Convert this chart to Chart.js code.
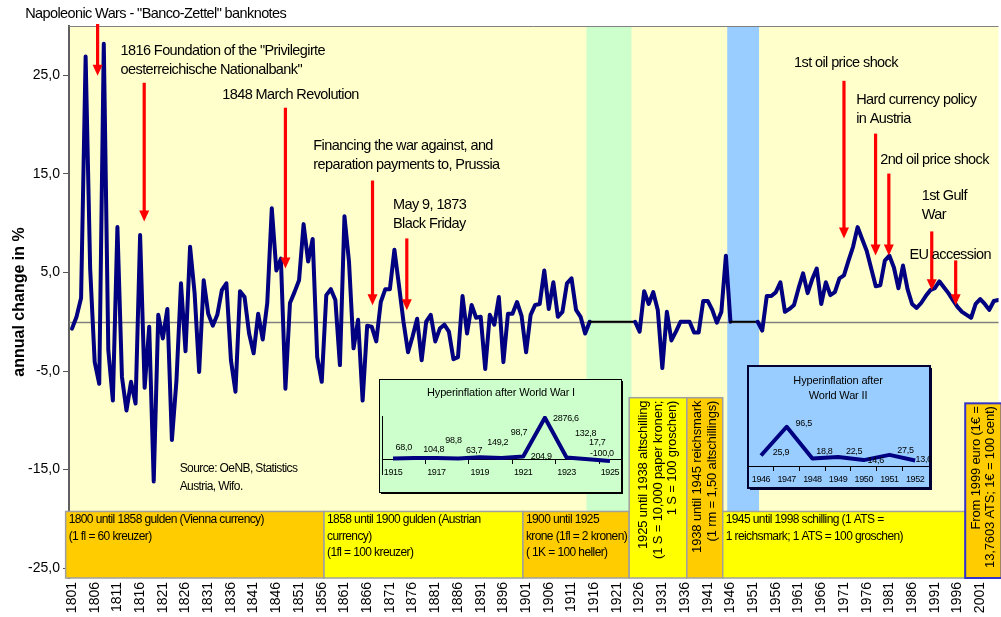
<!DOCTYPE html>
<html>
<head>
<meta charset="utf-8">
<title>Inflation in Austria 1801-2005</title>
<script src="https://cdn.jsdelivr.net/npm/chart.js@4.4.1/dist/chart.umd.min.js"></script>
<style>
  html, body { margin: 0; padding: 0; background: #fff; overflow: hidden; }
  #wrap { position: relative; width: 1001px; height: 617px; }
  canvas { position: absolute; }
  #main { left: 0; top: 0; }
  #ww1 { left: 379px; top: 379px; }
  #ww2 { left: 747px; top: 365px; }
</style>
</head>
<body>
<div id="wrap">
  <canvas id="main" width="1001" height="617"></canvas>
  <canvas id="ww1" width="245" height="117"></canvas>
  <canvas id="ww2" width="186" height="127"></canvas>
</div>
<script>
const FONT = "'Liberation Sans', Arial, sans-serif"
Chart.defaults.font.family = FONT
Chart.defaults.color = '#000'

// annual change in %, one value per year starting 1801
const firstYear = 1801
const inflation = [
  -0.7, 0.5, 2.4, 26.9, 5.4, -4.1, -6.3, 28.2, -2.9, -8.0,          // 1801-1810
  9.6, -5.6, -9.0, -6.1, -8.3, 8.8, -6.7, -0.5, -16.2, 0.7,         // 1811-1820
  -1.7, 1.3, -12.0, -6.0, 3.9, -3.0, 7.6, 2.9, -5.1, 4.2,           // 1821-1830
  0.8, -0.4, 0.7, 3.2, 3.9, -3.9, -7.1, 3.1, 2.5, -1.2,             // 1831-1840
  -3.2, 0.8, -1.8, 1.9, 11.5, 5.2, 6.4, -6.8, 1.9, 3.0,             // 1841-1850
  4.2, 9.9, 6.1, 8.4, -3.6, -6.1, 2.7, 3.3, 2.2, -4.4,              // 1851-1860
  10.7, 6.1, -2.7, 0.2, -8.0, -0.4, -0.5, -2.0, 2.0, 3.3,           // 1861-1870
  3.3, 7.3, 3.7, 0.0, -3.1, -1.5, 0.3, -3.9, 0.0, 0.7,              // 1871-1880
  -2.0, -0.7, -0.3, -1.0, -3.8, -3.6, 2.6, -1.2, 1.7, 0.4,          // 1881-1890
  0.5, -4.8, 0.7, -0.3, 2.5, -4.1, 0.8, 0.8, 2.0, 0.6,              // 1891-1900
  -3.1, 0.7, 1.7, 1.8, 5.2, 1.3, 4.0, 0.5, 1.0, 3.9,                // 1901-1910
  4.4, 1.2, 0.5, -1.2, 0.0, 0, 0, 0, 0, 0,                          // 1911-1920
  0, 0, 0, 0, 0.0, -1.0, 3.1, 1.8, 3.0, 1.2,                        // 1921-1930
  -4.7, 1.0, -1.9, -1.0, 0.0, 0.0, 0.0, -1.1, -1.1, 2.1,            // 1931-1940
  2.1, 1.2, -0.1, 1.0, 6.7, 0.0, 0, 0, 0, 0,                        // 1941-1950
  0, 0.0, -0.9, 2.6, 2.6, 3.0, 4.0, 1.0, 1.3, 1.7,                  // 1951-1960
  3.4, 4.9, 2.9, 4.3, 5.4, 1.8, 4.0, 2.7, 3.0, 4.4,                 // 1961-1970
  4.7, 6.2, 7.6, 9.6, 8.4, 7.2, 5.4, 3.6, 3.7, 6.2,                 // 1971-1980
  6.7, 5.5, 3.4, 5.7, 3.3, 1.8, 1.4, 1.9, 2.6, 3.2,                 // 1981-1990
  3.4, 4.1, 3.5, 2.9, 2.2, 1.5, 1.0, 0.7, 0.4, 1.8,                 // 1991-2000
  2.3, 1.8, 1.2, 2.1, 2.2                                           // 2001-2005
]
const years = inflation.map((_, i) => firstYear + i)

// hyperinflation periods are shown only in the insets
const hiddenPeriods = [[1915, 1925], [1946, 1952]]

const xTickYears = [1801, 1806, 1811, 1816, 1821, 1826, 1831, 1836, 1841, 1846, 1851,
  1856, 1861, 1866, 1871, 1876, 1881, 1886, 1891, 1896, 1901, 1906, 1911, 1916, 1921,
  1926, 1931, 1936, 1941, 1946, 1951, 1956, 1961, 1966, 1971, 1976, 1981, 1986, 1991,
  1996, 2001]
const yTicks = [-25, -15, -5, 5, 15, 25]

// inset: hyperinflation after World War I
const ww1Years = ['1915', '1916', '1917', '1918', '1919', '1920', '1921', '1922', '1923', '1924', '1925']
const ww1Values = [68.0, 104.8, 98.8, 63.7, 149.2, 98.7, 204.9, 2876.6, 132.8, 17.7, -100.0]

// inset: hyperinflation after World War II
const ww2Years = ['1946', '1947', '1948', '1949', '1950', '1951', '1952']
const ww2Values = [25.9, 96.5, 18.8, 22.5, 14.6, 27.5, 13.6]

const bands = [
  { from: 1914.3, to: 1924.2, color: '#CCFFCC' },
  { from: 1945.3, to: 1952.3, color: '#99CCFF' }
]

const boxBottom = -26
const currencyBoxes = [
  { from: 1799.6, to: 1856.5, top: -19.25, fill: '#FFCC00', lines: ['1800 until 1858 gulden (Vienna currency)', '(1 fl = 60 kreuzer)'] },
  { from: 1856.5, to: 1900.3, top: -19.25, fill: '#FFFF00', lines: ['1858 until 1900 gulden (Austrian', 'currency)', '(1fl = 100 kreuzer)'] },
  { from: 1900.3, to: 1923.7, top: -19.25, fill: '#FFCC00', lines: ['1900 until 1925', 'krone (1fl = 2 kronen)', '( 1K = 100 heller)'] },
  { from: 1923.7, to: 1936.4, top: -7.71, fill: '#FFFF00', vertical: true, lines: ['1925 until 1938 altschilling', '(1 S = 10,000 paper kronen;', '1 S = 100 groschen)'] },
  { from: 1936.4, to: 1944.3, top: -7.71, fill: '#FFCC00', vertical: true, lines: ['1938 until 1945 reichsmark', '(1 rm = 1,50 altschillings)'] },
  { from: 1944.3, to: 1997.7, top: -19.25, fill: '#FFFF00', lines: ['1945 until 1998 schilling (1 ATS =', '1 reichsmark; 1 ATS = 100 groschen)'] },
  { from: 1997.7, to: 2005.7, top: -8.28, fill: '#FFCC00', stroke: '#3333CC', vertical: true, lines: ['From 1999 euro (1€ =', '13,7603 ATS; 1€ = 100 cent)'] }
]

const notes = [
  { year: 1790.68, value: 31.2, lines: ['Napoleonic Wars - "Banco-Zettel" banknotes'] },
  { year: 1811.7, value: 27.48, lines: ['1816 Foundation of the "Privilegirte', 'oesterreichische Nationalbank"'] },
  { year: 1834.1, value: 22.98, lines: ['1848 March Revolution'] },
  { year: 1854.15, value: 17.86, lines: ['Financing the war against, and', 'reparation payments to, Prussia'] },
  { year: 1871.7, value: 11.79, lines: ['May 9, 1873', 'Black Friday'] },
  { year: 1960.0, value: 26.27, lines: ['1st oil price shock'] },
  { year: 1973.7, value: 22.52, lines: ['Hard currency policy', 'in Austria'] },
  { year: 1978.97, value: 16.36, lines: ['2nd oil price shock'] },
  { year: 1988.13, value: 12.8, lines: ['1st Gulf', 'War'] },
  { year: 1985.43, value: 6.73, lines: ['EU accession'] }
]

const arrows = [
  { year: 1806.64, from: 30.2, to: 24.95 },
  { year: 1816.9, from: 24.24, to: 10.17 },
  { year: 1848.0, from: 21.71, to: 5.41 },
  { year: 1867.18, from: 14.32, to: 1.67 },
  { year: 1874.73, from: 8.45, to: 1.16 },
  { year: 1971.0, from: 24.44, to: 8.45 },
  { year: 1977.96, from: 19.08, to: 6.73 },
  { year: 1980.88, from: 15.03, to: 6.73 },
  { year: 1990.33, from: 9.16, to: 3.19 },
  { year: 1995.6, from: 6.22, to: 1.67 }
]

const source = { year: 1824.72, value: -14.93, lines: ['Source: OeNB, Statistics', 'Austria, Wifo.'] }

const inHidden = (a, b) => hiddenPeriods.some(([s, e]) => a >= s && b <= e)

// plot background, bands and zero line
const backgroundPlugin = {
  id: 'background',
  beforeDraw(chart) {
    const { ctx, chartArea: a, scales: { x } } = chart
    ctx.save()
    ctx.fillStyle = '#FFFFCC'
    ctx.fillRect(a.left, a.top, a.right - a.left, a.bottom - a.top)
    bands.forEach((b) => {
      const x0 = x.getPixelForValue(b.from)
      const x1 = x.getPixelForValue(b.to)
      ctx.fillStyle = b.color
      ctx.fillRect(x0, a.top, x1 - x0, a.bottom - a.top)
    })
    ctx.restore()
  },
  beforeDatasetsDraw(chart) {
    const { ctx, chartArea: a, scales: { y } } = chart
    const y0 = Math.round(y.getPixelForValue(0)) + 0.5
    ctx.save()
    ctx.strokeStyle = '#808080'
    ctx.lineWidth = 1.5
    ctx.beginPath()
    ctx.moveTo(a.left, y0)
    ctx.lineTo(a.right, y0)
    ctx.stroke()
    ctx.restore()
  }
}

function drawLines(ctx, lines, left, top, lh) {
  lines.forEach((t, i) => ctx.fillText(t, left, top + i * lh))
}

// currency boxes, notes and arrows
const overlayPlugin = {
  id: 'overlay',
  afterDatasetsDraw(chart) {
    const { ctx, chartArea: a, scales: { x, y } } = chart
    ctx.save()
    ctx.strokeStyle = '#808080'
    ctx.lineWidth = 1
    ctx.beginPath()
    ctx.moveTo(a.left, a.top + 0.5)
    ctx.lineTo(a.right, a.top + 0.5)
    ctx.stroke()

    currencyBoxes.forEach((b) => {
      const x0 = x.getPixelForValue(b.from)
      const x1 = x.getPixelForValue(b.to)
      const y0 = y.getPixelForValue(b.top)
      const y1 = y.getPixelForValue(boxBottom)
      ctx.fillStyle = b.fill
      ctx.fillRect(x0, y0, x1 - x0, y1 - y0)
      ctx.strokeStyle = b.stroke || '#A0A0A0'
      ctx.lineWidth = b.stroke ? 2 : 1.5
      ctx.strokeRect(x0, y0, x1 - x0, y1 - y0)
      ctx.fillStyle = '#000'
      ctx.textBaseline = 'middle'
      if (b.vertical) {
        const lh = 14.5
        ctx.font = '13px ' + FONT
        ctx.letterSpacing = '-0.15px'
        ctx.save()
        ctx.translate((x0 + x1) / 2, y0 + 3)
        ctx.rotate(-Math.PI / 2)
        ctx.textAlign = 'right'
        b.lines.forEach((t, i) => ctx.fillText(t, 0, (i - (b.lines.length - 1) / 2) * lh))
        ctx.restore()
      } else {
        ctx.font = '12px ' + FONT
        ctx.letterSpacing = '-0.6px'
        ctx.textAlign = 'left'
        drawLines(ctx, b.lines, x0 + 3, y0 + 8.5, 16.5)
      }
    })

    ctx.fillStyle = '#FF0000'
    arrows.forEach((r) => {
      const ax = x.getPixelForValue(r.year)
      const top = y.getPixelForValue(r.from)
      const tip = y.getPixelForValue(r.to)
      ctx.fillRect(ax - 1.6, top, 3.2, tip - top - 9)
      ctx.beginPath()
      ctx.moveTo(ax - 5, tip - 11)
      ctx.lineTo(ax + 5, tip - 11)
      ctx.lineTo(ax, tip)
      ctx.closePath()
      ctx.fill()
    })

    ctx.fillStyle = '#000'
    ctx.textAlign = 'left'
    ctx.textBaseline = 'middle'
    ctx.font = '14.5px ' + FONT
    ctx.letterSpacing = '-0.6px'
    notes.forEach((n) => {
      drawLines(ctx, n.lines, x.getPixelForValue(n.year), y.getPixelForValue(n.value), 19)
    })
    ctx.font = '12px ' + FONT
    drawLines(ctx, source.lines, x.getPixelForValue(source.year), y.getPixelForValue(source.value), 17.5)
    ctx.restore()
  }
}

new Chart(document.getElementById('main'), {
  type: 'line',
  data: {
    datasets: [{
      data: years.map((yr, i) => ({ x: yr, y: inflation[i] })),
      borderColor: '#000080',
      borderWidth: 4,
      borderJoinStyle: 'round',
      borderCapStyle: 'round',
      pointRadius: 0,
      tension: 0,
      segment: {
        borderColor: (c) => inHidden(c.p0.parsed.x, c.p1.parsed.x) ? '#000000' : '#000080',
        borderWidth: (c) => inHidden(c.p0.parsed.x, c.p1.parsed.x) ? 2 : 4
      }
    }]
  },
  options: {
    responsive: false,
    animation: false,
    devicePixelRatio: 1,
    layout: { padding: { top: 26, left: 0, right: 0, bottom: 0 } },
    plugins: { legend: { display: false }, tooltip: { enabled: false } },
    scales: {
      x: {
        type: 'linear',
        min: 1800.34,
        max: 2005.04,
        afterBuildTicks: (s) => { s.ticks = xTickYears.map((v) => ({ value: v })) },
        afterFit: (s) => { s.height = 39 },
        grid: { display: false, drawTicks: false },
        border: { display: false },
        ticks: {
          autoSkip: false, minRotation: 90, maxRotation: 90, padding: 4,
          font: { size: 14 }, color: '#000',
          callback: (v) => String(v)
        }
      },
      y: {
        min: -26,
        max: 30,
        afterBuildTicks: (s) => { s.ticks = yTicks.map((v) => ({ value: v })) },
        afterFit: (s) => { s.width = 69 },
        grid: { color: 'transparent', tickColor: '#555', tickLength: 6, drawOnChartArea: false },
        border: { display: true, color: '#606060', width: 2 },
        ticks: {
          padding: 3, font: { size: 14 }, color: '#000',
          callback: (v) => v.toFixed(1).replace('.', ',')
        },
        title: {
          display: true, text: 'annual change in %', color: '#000',
          font: { size: 16, weight: 'bold' }, padding: { top: 10, bottom: 0 }
        }
      }
    }
  },
  plugins: [backgroundPlugin, overlayPlugin]
})

// ---- insets ----
function insetPlugin(opt) {
  return {
    id: 'insetFrame',
    beforeDraw(chart) {
      const { ctx } = chart
      const [bx, by, bw, bh] = opt.box
      ctx.save()
      ctx.fillStyle = opt.stroke
      ctx.fillRect(bx + opt.shadow, by + opt.shadow, bw, bh)
      ctx.fillStyle = opt.fill
      ctx.fillRect(bx, by, bw, bh)
      ctx.strokeStyle = opt.stroke
      ctx.lineWidth = opt.strokeWidth
      ctx.strokeRect(bx, by, bw, bh)
      ctx.restore()
      ctx.letterSpacing = '-0.4px'
    },
    afterDatasetsDraw(chart) {
      const { ctx } = chart
      const meta = chart.getDatasetMeta(0)
      ctx.save()
      ctx.fillStyle = '#000'
      ctx.textAlign = 'center'
      ctx.textBaseline = 'middle'
      ctx.letterSpacing = '-0.3px'
      ctx.font = '9px ' + FONT
      opt.values.forEach((v, i) => {
        const p = meta.data[i]
        const [dx, dy] = opt.offsets[i]
        ctx.fillText(v.toFixed(1).replace('.', ','), p.x + dx, p.y + dy)
      })
      ctx.font = '11px ' + FONT
      ctx.letterSpacing = '-0.15px'
      opt.title.forEach((t, i) => ctx.fillText(t, opt.titleX, opt.titleY + i * 15))
      ctx.restore()
    }
  }
}

function insetChart(id, labels, values, o) {
  return new Chart(document.getElementById(id), {
    type: 'line',
    data: {
      labels: labels,
      datasets: [{
        data: values, borderColor: '#000080', borderWidth: 4,
        borderJoinStyle: 'round', pointRadius: 0, tension: 0
      }]
    },
    options: {
      responsive: false,
      animation: false,
      devicePixelRatio: 1,
      layout: { padding: o.padding },
      plugins: { legend: { display: false }, tooltip: { enabled: false } },
      scales: {
        x: {
          type: 'category',
          offset: true,
          position: { y: 0 },
          grid: {
            offset: true, drawOnChartArea: false, tickLength: 4, color: 'transparent',
            tickColor: (c) => (c.index > 0 && c.index % o.tickEvery === 0) ? '#000' : 'transparent'
          },
          border: { display: true, color: '#000', width: 1 },
          ticks: {
            autoSkip: false, maxRotation: 0, padding: 4, color: '#000', font: { size: 9 },
            callback: (v, i) => (i % o.labelEvery === 0 ? labels[i] : '')
          }
        },
        y: {
          min: o.min,
          max: o.max,
          afterFit: (s) => { s.width = 0 },
          grid: { display: false, drawTicks: false },
          border: { display: o.yBorder, color: '#000', width: 1 },
          ticks: { display: false }
        }
      }
    },
    plugins: [insetPlugin(o.frame)]
  })
}

insetChart('ww1', ww1Years, ww1Values, {
  padding: { left: 1, right: 3, top: 37, bottom: 22 },
  min: -1000, max: 3000, tickEvery: 2, labelEvery: 2, yBorder: true,
  frame: {
    box: [0.5, 0.5, 242, 113], fill: '#CCFFCC', stroke: '#000000', strokeWidth: 1, shadow: 1.5,
    values: ww1Values,
    offsets: [[10.7, -10.6], [19, -8], [17, -18], [16, -8], [18, -15], [17.5, -26], [18, 0], [21, 1], [19, -24], [9, -17], [-8, -7]],
    title: ['Hyperinflation after World War I'], titleX: 122, titleY: 14
  }
})

insetChart('ww2', ww2Years, ww2Values, {
  padding: { left: 0, right: 5, top: 40, bottom: 5.6 },
  min: -50, max: 150, tickEvery: 1, labelEvery: 1, yBorder: false,
  frame: {
    box: [1, 1, 182, 122], fill: '#99CCFF', stroke: '#000033', strokeWidth: 2, shadow: 2,
    values: ww2Values,
    offsets: [[20, -2.5], [17, -3], [12, -6.6], [16, -5], [12, 0.6], [16, -4], [8.5, -0.5]],
    title: ['Hyperinflation after', 'World War II'], titleX: 91, titleY: 16
  }
})
</script>
</body>
</html>
